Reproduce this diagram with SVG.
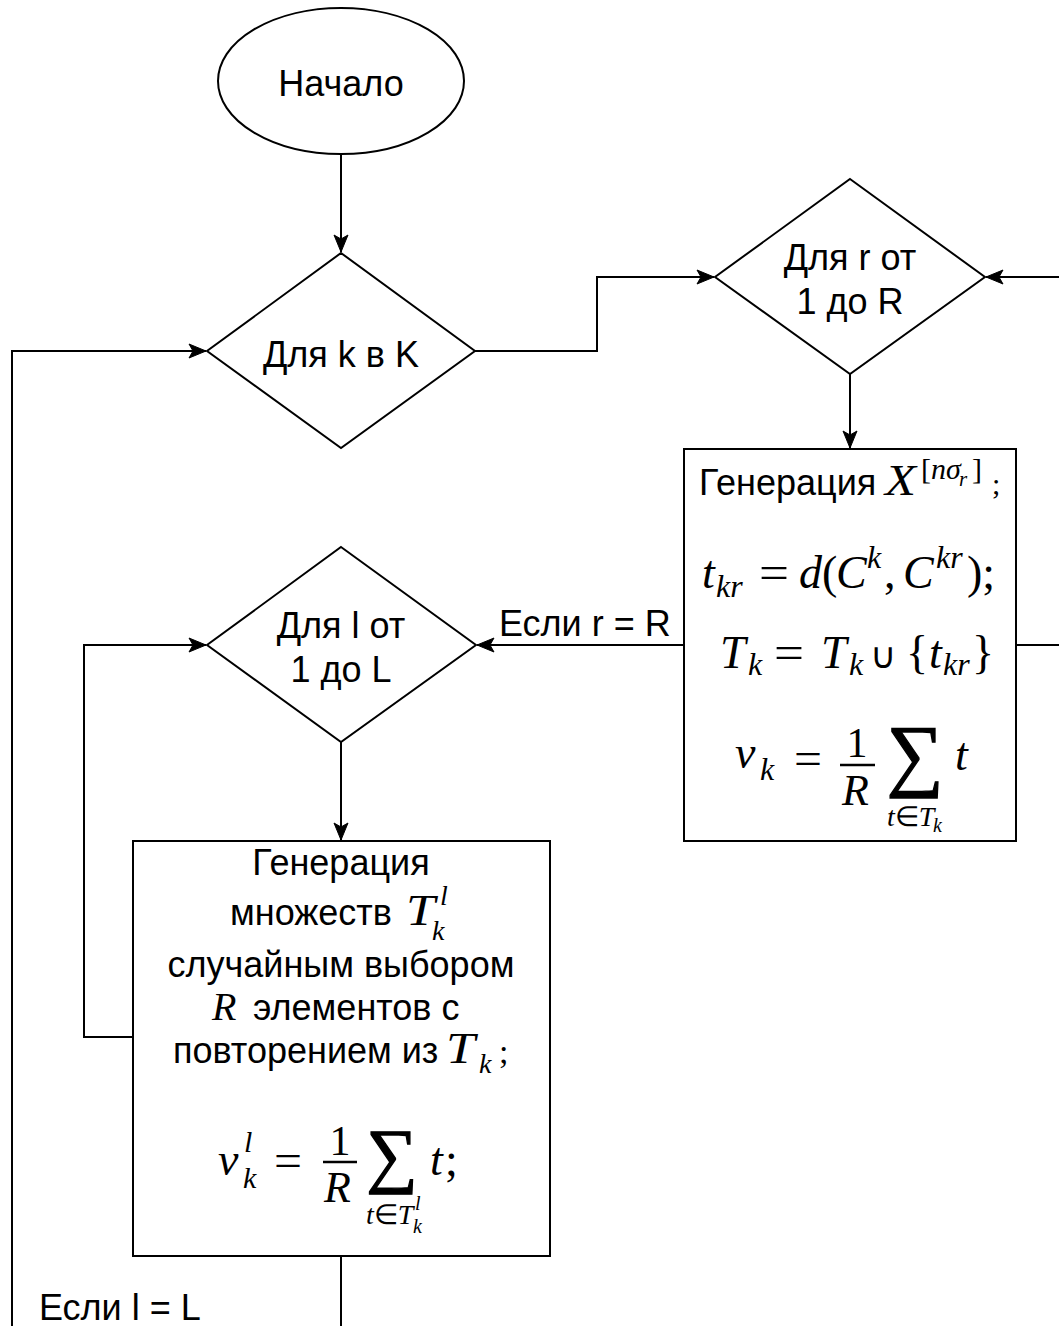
<svg xmlns="http://www.w3.org/2000/svg" width="1059" height="1326" viewBox="0 0 1059 1326">
<style>
.shape{fill:#fff;stroke:#000;stroke-width:2}
.edge{fill:none;stroke:#000;stroke-width:2}
.s{font-family:"Liberation Sans",Arial,Helvetica,sans-serif;font-size:36px;fill:#000}
.m{font-family:"Liberation Serif","Times New Roman",serif;font-style:italic;fill:#000}
.n{font-family:"Liberation Serif","Times New Roman",serif;font-style:normal;fill:#000}
.sum{font-family:"Liberation Serif","Times New Roman",serif;fill:#000;stroke:#000;stroke-width:1.3}
</style>
<defs>
<marker id="arr" markerUnits="userSpaceOnUse" markerWidth="22" markerHeight="18" refX="18" refY="8" orient="auto">
<path d="M1,1 L18,8 L1,15 L5,8 Z" fill="#000" stroke="#000" stroke-width="1"/>
</marker>
</defs>
<rect width="1059" height="1326" fill="#fff"/>
<g id="edges">
<path class="edge" d="M341,155 V252" marker-end="url(#arr)"/>
<path class="edge" d="M475,351 H597 V277 H714" marker-end="url(#arr)"/>
<path class="edge" d="M850,374 V448" marker-end="url(#arr)"/>
<path class="edge" d="M1016,645 H1075 V277 H986" marker-end="url(#arr)"/>
<path class="edge" d="M684,645 H477" marker-end="url(#arr)"/>
<text class="s" x="499" y="636">Если r = R</text>
<path class="edge" d="M341,742 V840" marker-end="url(#arr)"/>
<path class="edge" d="M133,1037 H84 V645 H206" marker-end="url(#arr)"/>
<path class="edge" d="M341,1256 V1340 H12 V351 H206" marker-end="url(#arr)"/>
<text class="s" x="39" y="1320">Если l = L</text>
</g>
<g id="start">
<ellipse class="shape" cx="341" cy="81" rx="123" ry="73"/>
<text class="s" x="341" y="96" text-anchor="middle">Начало</text>
</g>
<g id="loop-k">
<path class="shape" d="M341,253 L475,351 L341,448 L207,351 Z"/>
<text class="s" x="341" y="367" text-anchor="middle">Для k в K</text>
</g>
<g id="loop-r">
<path class="shape" d="M850,179 L985,277 L850,374 L715,277 Z"/>
<text class="s" x="850" y="270" text-anchor="middle">Для r от</text>
<text class="s" x="850" y="314" text-anchor="middle">1 до R</text>
</g>
<g id="gen-x">
<rect class="shape" x="684" y="449" width="332" height="392"/>
<text class="s" x="699" y="495">Генерация</text>
<text class="m" x="885" y="495" font-size="44" textLength="31" lengthAdjust="spacingAndGlyphs">X</text>
<text class="n" x="921" y="479" font-size="30">[</text>
<text class="m" x="931" y="479" font-size="30">nσ</text>
<text class="m" x="959" y="486" font-size="21">r</text>
<text class="n" x="972" y="479" font-size="30">]</text>
<text class="n" x="992" y="494" font-size="30">;</text>

<text class="m" x="702" y="588" font-size="46">t</text>
<text class="m" x="716" y="597" font-size="32">kr</text>
<text class="n" x="759" y="588" font-size="46" textLength="30" lengthAdjust="spacingAndGlyphs">=</text>
<text class="m" x="799" y="588" font-size="46">d</text>
<text class="n" x="822" y="588" font-size="46">(</text>
<text class="m" x="836" y="588" font-size="46">C</text>
<text class="m" x="867" y="568" font-size="32">k</text>
<text class="n" x="884" y="588" font-size="46">,</text>
<text class="m" x="903" y="588" font-size="46">C</text>
<text class="m" x="936" y="568" font-size="32">kr</text>
<text class="n" x="967" y="588" font-size="46">);</text>

<text class="m" x="720" y="668" font-size="46">T</text>
<text class="m" x="748" y="675" font-size="32">k</text>
<text class="n" x="774" y="668" font-size="46" textLength="30" lengthAdjust="spacingAndGlyphs">=</text>
<text class="m" x="821" y="668" font-size="46">T</text>
<text class="m" x="849" y="675" font-size="32">k</text>
<text class="n" x="870" y="668" font-size="36">∪</text>
<text class="n" x="906" y="668" font-size="46">{</text>
<text class="m" x="929" y="668" font-size="46">t</text>
<text class="m" x="943" y="675" font-size="32">kr</text>
<text class="n" x="972" y="668" font-size="46">}</text>

<text class="m" x="735" y="768" font-size="46">ν</text>
<text class="m" x="760" y="780" font-size="32">k</text>
<text class="n" x="794" y="774" font-size="46" textLength="28" lengthAdjust="spacingAndGlyphs">=</text>
<text class="n" x="857" y="757" font-size="42" text-anchor="middle">1</text>
<line x1="840" y1="765" x2="875" y2="765" stroke="#000" stroke-width="2.5"/>
<text class="m" x="842" y="805" font-size="44">R</text>
<text class="sum" x="915" y="781" font-size="80" text-anchor="middle">∑</text>
<text class="m" x="955" y="770" font-size="46">t</text>
<text class="m" x="887" y="826" font-size="28">t<tspan class="n">∈</tspan>T</text>
<text class="m" x="933" y="832" font-size="20">k</text>
</g>
<g id="loop-l">
<path class="shape" d="M341,547 L476,645 L341,742 L207,645 Z"/>
<text class="s" x="341" y="638" text-anchor="middle">Для l от</text>
<text class="s" x="341" y="682" text-anchor="middle">1 до L</text>
</g>
<g id="gen-sets">
<rect class="shape" x="133" y="841" width="417" height="415"/>
<text class="s" x="341" y="875" text-anchor="middle">Генерация</text>
<text class="s" x="230" y="925">множеств</text>
<text class="m" x="406" y="925" font-size="44" textLength="29" lengthAdjust="spacingAndGlyphs">T</text>
<text class="m" x="440" y="905" font-size="28">l</text>
<text class="m" x="432" y="940" font-size="28">k</text>
<text class="s" x="341" y="977" text-anchor="middle">случайным выбором</text>
<text class="m" x="212" y="1020" font-size="40">R</text>
<text class="s" x="253" y="1020">элементов с</text>
<text class="s" x="173" y="1063">повторением из</text>
<text class="m" x="446" y="1063" font-size="44" textLength="29" lengthAdjust="spacingAndGlyphs">T</text>
<text class="m" x="479" y="1073" font-size="28">k</text>
<text class="n" x="499" y="1063" font-size="34">;</text>

<text class="m" x="218" y="1175" font-size="46">ν</text>
<text class="m" x="244" y="1152" font-size="30">l</text>
<text class="m" x="243" y="1188" font-size="30">k</text>
<text class="n" x="274" y="1176" font-size="46" textLength="28" lengthAdjust="spacingAndGlyphs">=</text>
<text class="n" x="340" y="1155" font-size="42" text-anchor="middle">1</text>
<line x1="323" y1="1162" x2="357" y2="1162" stroke="#000" stroke-width="2.5"/>
<text class="m" x="324" y="1202" font-size="44">R</text>
<text class="sum" x="392" y="1179" font-size="72" text-anchor="middle">∑</text>
<text class="m" x="430" y="1175" font-size="46">t</text>
<text class="n" x="445" y="1175" font-size="46">;</text>
<text class="m" x="366" y="1224" font-size="28">t<tspan class="n">∈</tspan>T</text>
<text class="m" x="415" y="1210" font-size="20">l</text>
<text class="m" x="413" y="1233" font-size="20">k</text>
</g>
</svg>
